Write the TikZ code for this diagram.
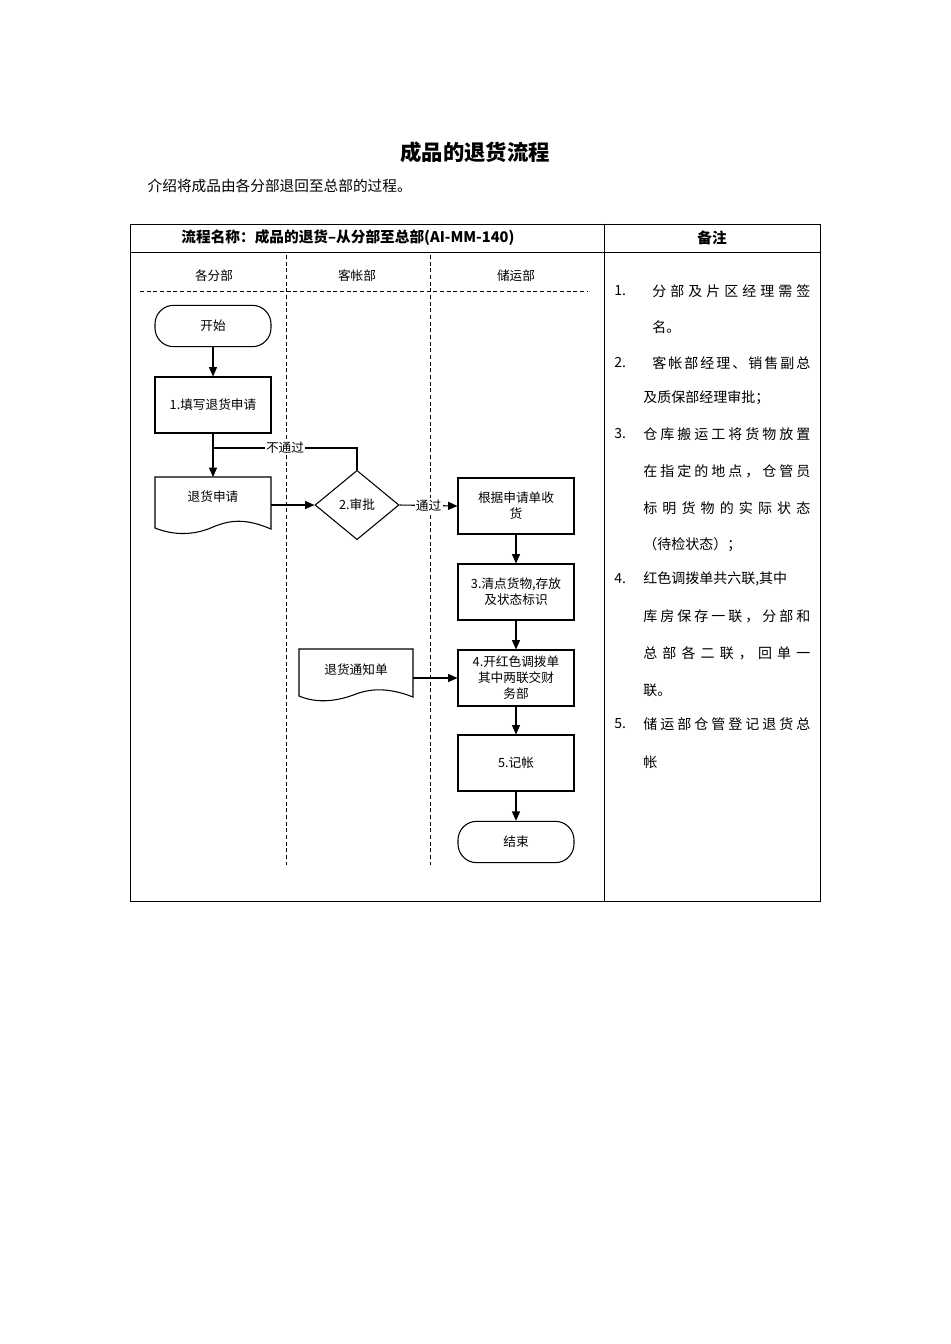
\documentclass[tikz,border=0pt]{standalone}
\usepackage{fontspec}
\setmainfont{Noto Sans CJK SC}
\usetikzlibrary{shapes.geometric,arrows.meta}
\def\gobbleone#1{}
\def\spx#1#2{#1\ifx\relax#2\expandafter\gobbleone\else\hfill\expandafter\spx\fi#2}
\begin{document}
\begin{tikzpicture}[x=0.75pt,y=-0.75pt,
  box/.style={draw,thick,minimum width=87pt,minimum height=42pt,align=center,font=\fontsize{9.5}{12}\selectfont,inner sep=1pt},
  term/.style={draw,thick,rounded corners=14pt,minimum width=87pt,minimum height=31pt,font=\fontsize{9.5}{12}\selectfont},
  arr/.style={-{Triangle[length=7pt,width=6pt]},thick},
  lane/.style={densely dashed,thin},
  note/.style={anchor=west,font=\fontsize{10.5}{12}\selectfont,inner sep=0pt},
  lbl/.style={fill=white,inner sep=1pt,font=\fontsize{9.5}{12}\selectfont}]
\useasboundingbox (0,0) rectangle (950,1344);
\fill[white] (0,0) rectangle (950,1344);
\node[font=\fontsize{16}{18}\selectfont\bfseries] (title) at (475,152) {成品的退货流程};
\node[anchor=west,font=\fontsize{11}{13}\selectfont] (intro) at (143,186) {介绍将成品由各分部退回至总部的过程。};
\draw (130,224) rectangle (820,901);
\draw (130,252) -- (820,252);
\draw (604,224) -- (604,901);
\node[font=\fontsize{11}{13}\selectfont\bfseries] (h1) at (348,238) {流程名称：成品的退货--从分部至总部(AI-MM-140)};
\node[font=\fontsize{11}{13}\selectfont\bfseries] (h2) at (712,238) {备注};
% lanes
\draw[lane] (286,255) -- (286,865);
\draw[lane] (430,255) -- (430,865);
\draw[lane] (140,291) -- (588,291);
\node[font=\fontsize{9.5}{12}\selectfont] (l1) at (214,276) {各分部};
\node[font=\fontsize{9.5}{12}\selectfont] (l2) at (357,276) {客帐部};
\node[font=\fontsize{9.5}{12}\selectfont] (l3) at (516,276) {储运部};
% nodes
\node[term] (start) at (213,326) {开始};
\node[box] (s1) at (213,405) {1.填写退货申请};
\draw[thick,fill=white] (155,477) -- (271,477) -- (271,529) .. controls (245,518) and (230,520) .. (213,527) .. controls (195,535) and (175,536) .. (155,528) -- cycle;
\node[font=\fontsize{9.5}{12}\selectfont] (doc1) at (213,497) {退货申请};
\coordinate (doc1L) at (271,505);
\coordinate (doc1T) at (213,477);
\node[draw,thick,diamond,minimum width=63pt,minimum height=52pt,inner sep=0pt,font=\fontsize{9.5}{12}\selectfont] (d2) at (357,505) {2.审批};
\node[box] (rcv) at (516,506) {根据申请单收\\货};
\node[box] (s3) at (516,592) {3.清点货物,存放\\及状态标识};
\node[box] (s4) at (516,678) {4.开红色调拨单\\其中两联交财\\务部};
\draw[thick,fill=white] (299,649) -- (413,649) -- (413,697) .. controls (390,688) and (372,688) .. (356,694) .. controls (338,701) and (318,704) .. (299,696) -- cycle;
\node[font=\fontsize{9.5}{12}\selectfont] (doc2) at (356,670) {退货通知单};
\coordinate (doc2R) at (413,678);
\node[box] (s5) at (516,763) {5.记帐};
\node[term] (end) at (516,842) {结束};
% edges
\draw[arr] (start) -- (s1);
\draw[arr] (s1) -- (doc1T);
\draw[thick] (d2.north) |- (213,448) node[lbl,pos=0.75] {不通过};
\draw[arr] (doc1L) -- (d2.west);
\draw[arr] (d2.east) -- node[lbl] {通过} (rcv.west);
\draw[arr] (rcv) -- (s3);
\draw[arr] (s3) -- (s4);
\draw[arr] (doc2R) -- (s4.west);
\draw[arr] (s4) -- (s5);
\draw[arr] (s5) -- (end);
% notes
\def\w{125.25pt}
\node[note] (n1) at (614,291) {1.};
\node[note] (n1a) at (652,291) {\makebox[118.5pt][l]{\spx 分部及片区经理需签\relax}};
\node[note] (n1b) at (652,327) {名。};
\node[note] (n2) at (614,363) {2.};
\node[note] (n2a) at (652,363) {\makebox[118.5pt][l]{\spx 客帐部经理、销售副总\relax}};
\node[note] (n2b) at (643,398) {及质保部经理审批；};
\node[note] (n3) at (614,434) {3.};
\node[note] (n3a) at (643,434) {\makebox[\w][l]{\spx 仓库搬运工将货物放置\relax}};
\node[note] (n3b) at (643,471) {\makebox[\w][l]{\spx 在指定的地点，仓管员\relax}};
\node[note] (n3c) at (643,508) {\makebox[\w][l]{\spx 标明货物的实际状态\relax}};
\node[note] (n3d) at (643,545) {（待检状态）；};
\node[note] (n4) at (614,579) {4.};
\node[note] (n4a) at (643,579) {红色调拨单共六联,其中};
\node[note] (n4b) at (643,616) {\makebox[\w][l]{\spx 库房保存一联，分部和\relax}};
\node[note] (n4c) at (643,653) {\makebox[\w][l]{\spx 总部各二联，回单一\relax}};
\node[note] (n4d) at (643,690) {联。};
\node[note] (n5) at (614,724) {5.};
\node[note] (n5a) at (643,724) {\makebox[\w][l]{\spx 储运部仓管登记退货总\relax}};
\node[note] (n5b) at (643,762) {帐};
\end{tikzpicture}
\end{document}
